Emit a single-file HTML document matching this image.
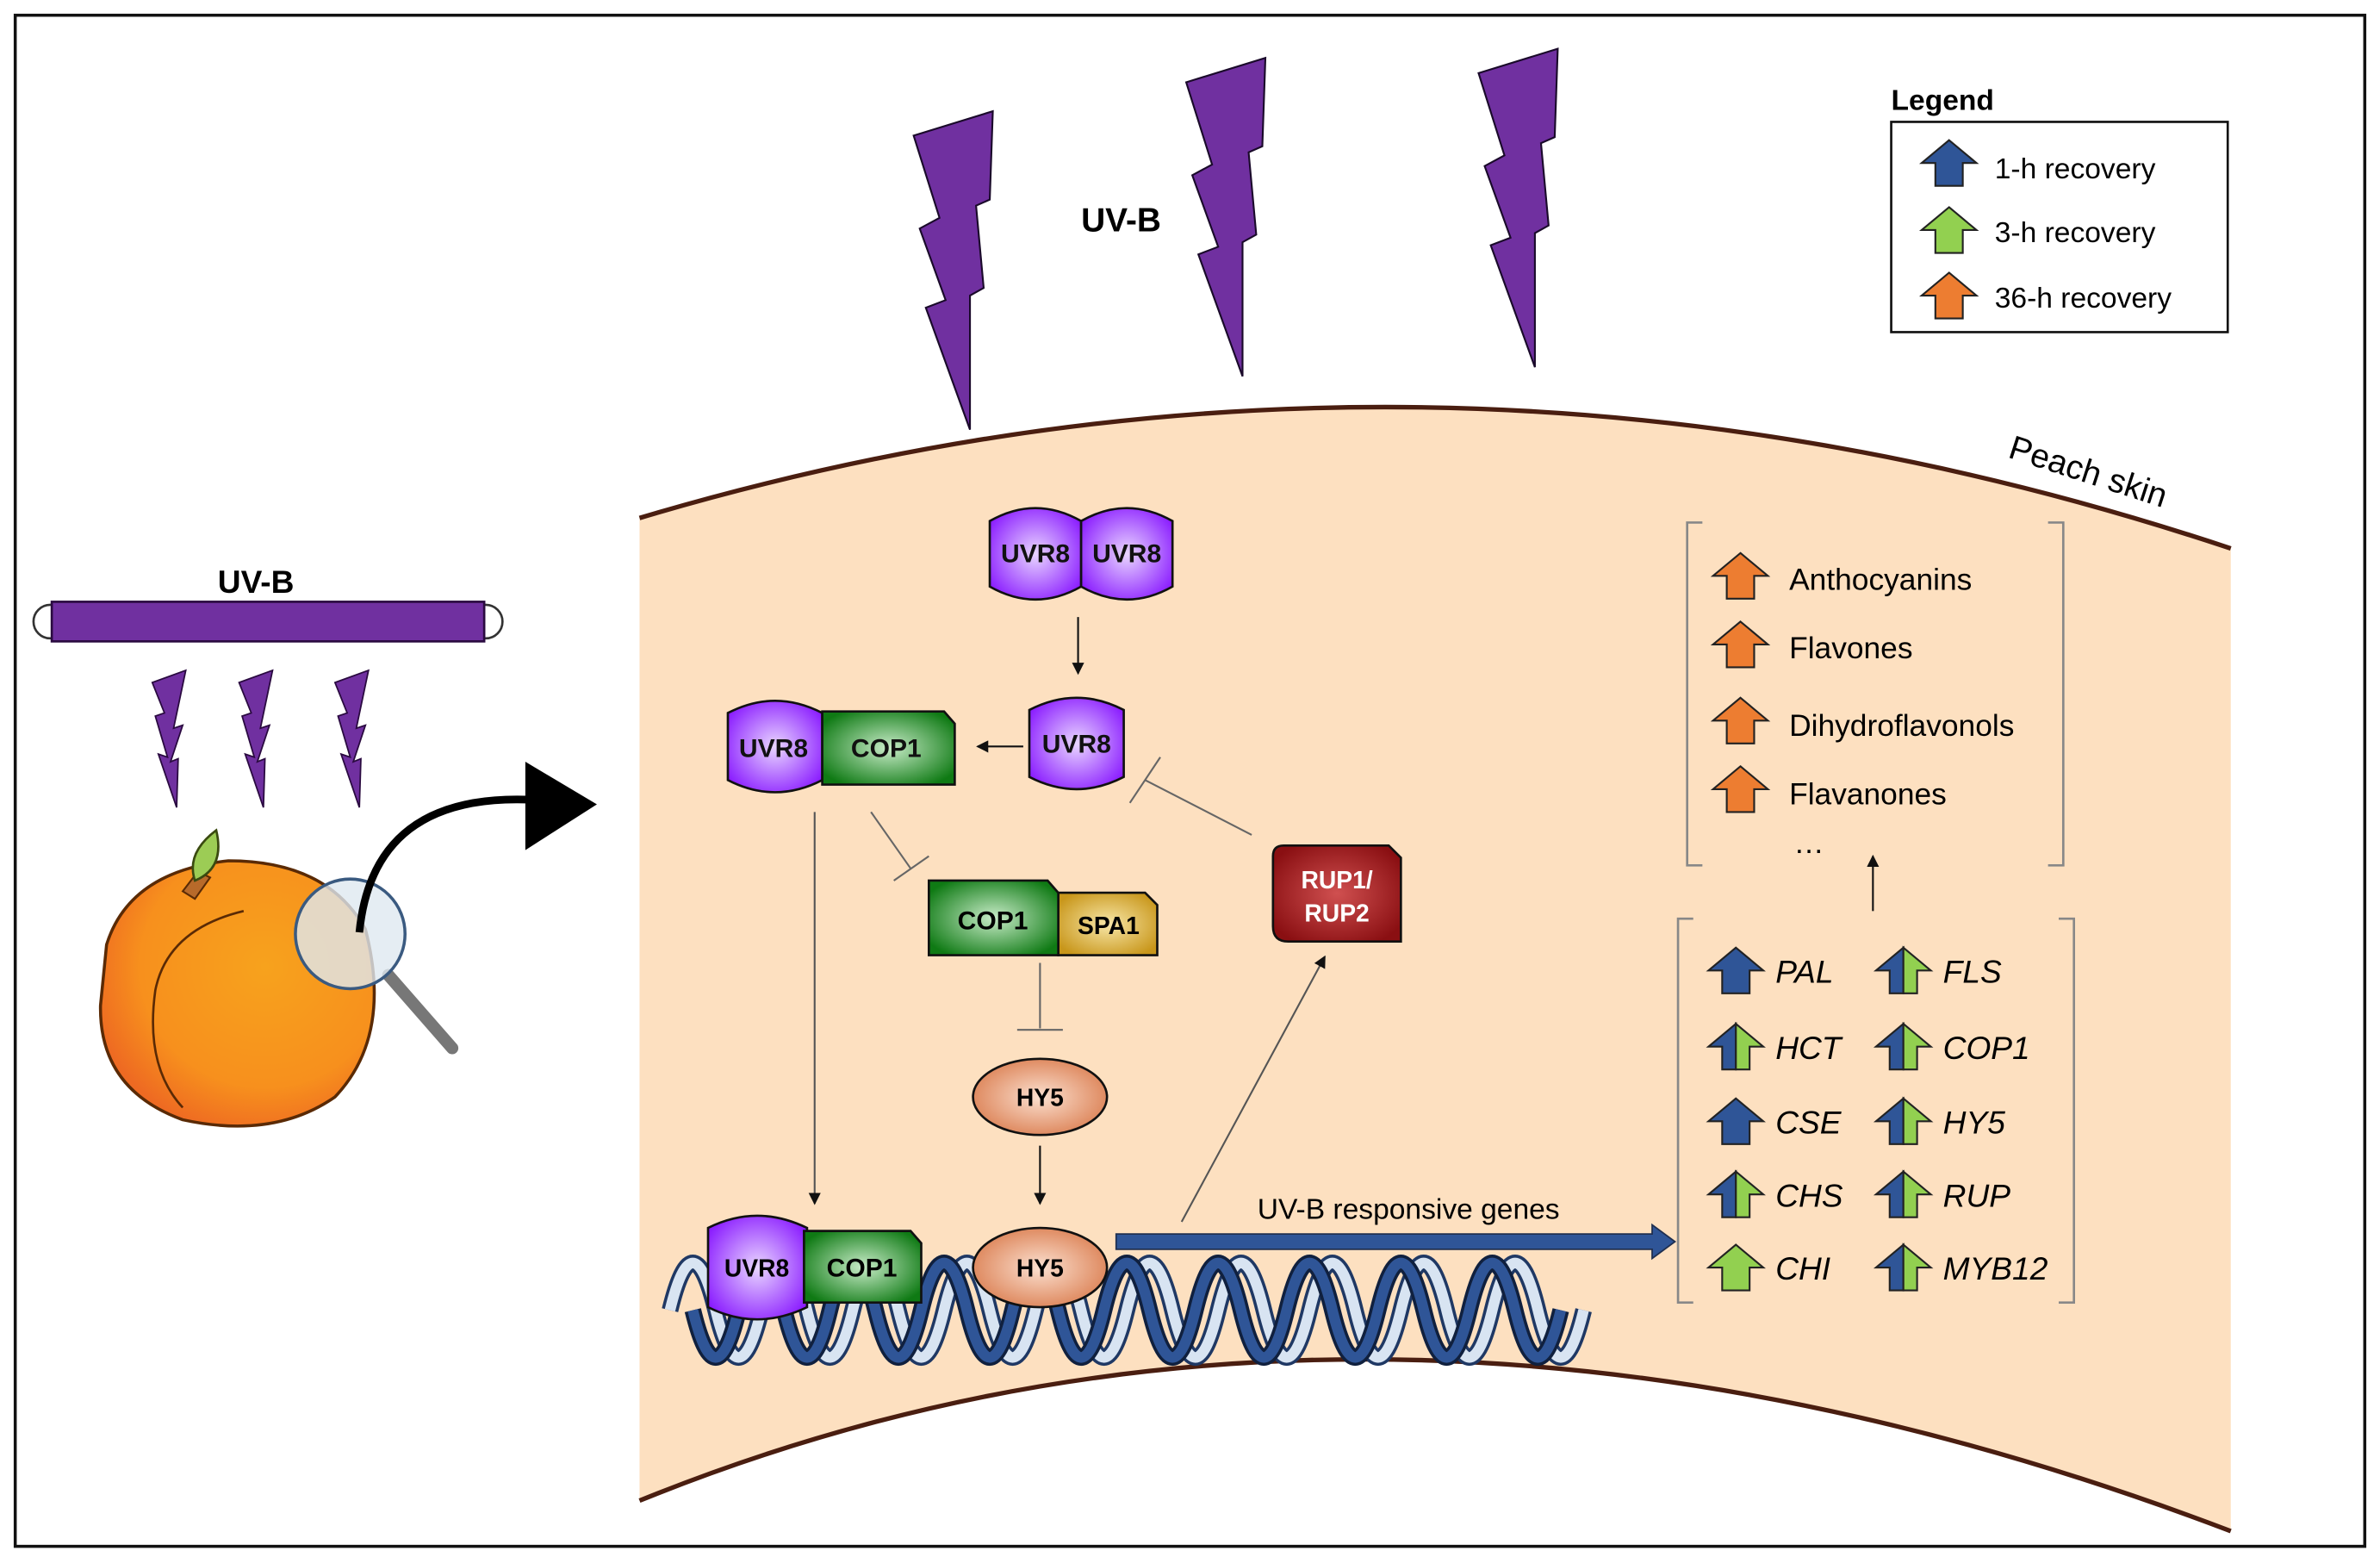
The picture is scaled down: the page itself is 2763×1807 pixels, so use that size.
<!DOCTYPE html>
<html><head><meta charset="utf-8"><style>
html,body{margin:0;padding:0;background:#fff}
svg{display:block}
text{font-family:"Liberation Sans",Arial,sans-serif}
</style></head><body>
<svg width="2763" height="1807" viewBox="0 0 1563 1022" preserveAspectRatio="none" xmlns="http://www.w3.org/2000/svg">
<defs>
<radialGradient id="gp" cx="50%" cy="50%" r="60%"><stop offset="0" stop-color="#e9d6ff"/><stop offset="1" stop-color="#8a1cff"/></radialGradient>
<radialGradient id="gg" cx="50%" cy="50%" r="60%"><stop offset="0" stop-color="#c8ecc8"/><stop offset="1" stop-color="#0f7a14"/></radialGradient>
<radialGradient id="gy" cx="50%" cy="50%" r="60%"><stop offset="0" stop-color="#f8e7a8"/><stop offset="1" stop-color="#c8961a"/></radialGradient>
<radialGradient id="gs" cx="50%" cy="50%" r="60%"><stop offset="0" stop-color="#fbe0d0"/><stop offset="1" stop-color="#d9794a"/></radialGradient>
<radialGradient id="gr" cx="50%" cy="50%" r="60%"><stop offset="0" stop-color="#d05050"/><stop offset="1" stop-color="#8a0f12"/></radialGradient>
<radialGradient id="go" cx="60%" cy="40%" r="65%"><stop offset="0" stop-color="#f7a21d"/><stop offset="0.7" stop-color="#f7901d"/><stop offset="1" stop-color="#ee6a22"/></radialGradient>
<marker id="ah" markerWidth="8" markerHeight="8" refX="7" refY="4" orient="auto" markerUnits="userSpaceOnUse"><path d="M0,0 L8,4 L0,8 z" fill="#111"/></marker>
<symbol id="arr" viewBox="-18 0 36 30" overflow="visible"><path d="M0,0 L18,15 L9,15 L9,30 L-9,30 L-9,15 L-18,15 z" stroke="#222" stroke-width="1.2"/></symbol>
</defs>
<rect x="10" y="10" width="1543" height="1005" fill="#fff" stroke="#111" stroke-width="2"/>

<!-- peach skin -->
<path d="M420,340 Q940,185 1465,360 L1465,1005 Q900,790 420,985 Z" fill="#fde0c0"/>
<path d="M420,340 Q940,185 1465,360" fill="none" stroke="#4a1e10" stroke-width="3"/>
<path d="M420,985 Q900,790 1465,1005" fill="none" stroke="#4a1e10" stroke-width="3"/>
<text x="1318" y="300" font-size="22" transform="rotate(18 1318 300)">Peach skin</text>

<!-- big bolts -->
<g fill="#7030a0" stroke="#1a0a2a" stroke-width="1.2">
<polygon points="600,89 652,73 650,131 641,135 646,189 637,194 637,282 608,202 621,197 604,150 617,143"/>
<polygon points="600,89 652,73 650,131 641,135 646,189 637,194 637,282 608,202 621,197 604,150 617,143" transform="translate(179,-35)"/>
<polygon points="600,89 652,73 650,131 641,135 646,189 637,194 637,282 608,202 621,197 604,150 617,143" transform="translate(371,-41)"/>
</g>
<text x="710" y="152" font-size="22" font-weight="bold">UV-B</text>

<!-- legend -->
<text x="1242" y="72" font-size="19" font-weight="bold">Legend</text>
<rect x="1242" y="80" width="221" height="138" fill="#fff" stroke="#111" stroke-width="1.5"/>
<use href="#arr" x="1262" y="92" width="36" height="30" fill="#2f5597"/>
<use href="#arr" x="1262" y="136" width="36" height="30" fill="#92d050"/>
<use href="#arr" x="1262" y="179" width="36" height="30" fill="#ed7d31"/>
<text x="1310" y="117" font-size="19">1-h recovery</text>
<text x="1310" y="159" font-size="19">3-h recovery</text>
<text x="1310" y="202" font-size="19">36-h recovery</text>

<!-- lamp -->
<text x="143" y="389" font-size="21" font-weight="bold">UV-B</text>
<rect x="22" y="397" width="308" height="22" rx="11" fill="#fff" stroke="#333" stroke-width="1.5"/>
<rect x="34" y="395" width="284" height="26" fill="#7030a0" stroke="#2a0a40" stroke-width="1.5"/>
<g fill="#7030a0" stroke="#2a0a40" stroke-width="1">
<polygon points="100,448 122,440 114,478 120,476 112,500 117,498 116,530 104,495 110,497 102,470 108,468"/>
<polygon points="157,448 179,440 171,478 177,476 169,500 174,498 173,530 161,495 167,497 159,470 165,468"/>
<polygon points="220,448 242,440 234,478 240,476 232,500 237,498 236,530 224,495 230,497 222,470 228,468"/>
</g>

<!-- peach -->
<path d="M70,620 Q85,572 150,565 Q215,565 240,610 Q258,680 220,720 Q180,748 120,735 Q65,715 66,660 Z" fill="url(#go)" stroke="#5a2a05" stroke-width="2"/>
<path d="M160,598 Q110,610 102,650 Q95,700 120,727" fill="none" stroke="#5a2a05" stroke-width="1.5"/>
<path d="M120,585 L130,572 L138,576 L128,590 z" fill="#b86a2a" stroke="#5a2a05" stroke-width="1.2"/>
<path d="M128,578 Q122,560 142,545 Q148,570 128,578 z" fill="#9ccc55" stroke="#3a4a10" stroke-width="1.5"/>
<line x1="255" y1="640" x2="297" y2="688" stroke="#777" stroke-width="8" stroke-linecap="round"/>
<circle cx="230" cy="613" r="36" fill="#dfe8f0" fill-opacity="0.8" stroke="#3a5a80" stroke-width="2"/>
<path d="M236,612 Q245,520 350,525" fill="none" stroke="#000" stroke-width="5"/>
<polygon points="345,500 392,528 345,558" fill="#000"/>

<!-- connectors -->
<g stroke="#666" stroke-width="1.2" fill="none">
<line x1="708" y1="405" x2="708" y2="442" stroke="#111" marker-end="url(#ah)"/>
<line x1="672" y1="490" x2="642" y2="490" stroke="#111" marker-end="url(#ah)"/>
<line x1="572" y1="533" x2="598" y2="570"/><line x1="587" y1="578" x2="610" y2="562"/>
<line x1="683" y1="632" x2="683" y2="675"/><line x1="668" y1="676" x2="698" y2="676"/>
<line x1="822" y1="548" x2="752" y2="512"/><line x1="742" y1="527" x2="762" y2="497"/>
<line x1="535" y1="533" x2="535" y2="790" stroke="#555" marker-end="url(#ah)"/>
<line x1="683" y1="752" x2="683" y2="790" stroke="#111" marker-end="url(#ah)"/>
<line x1="776" y1="802" x2="870" y2="628" stroke="#555" marker-end="url(#ah)"/>
<line x1="1230" y1="598" x2="1230" y2="562" stroke="#111" marker-end="url(#ah)"/>
</g>

<!-- UVR8 dimer -->
<g stroke="#111" stroke-width="1.5" fill="url(#gp)">
<path d="M650,342 Q680,325 710,342 L710,385 Q680,402 650,385 Z"/>
<path d="M710,342 Q740,325 770,342 L770,385 Q740,402 710,385 Z"/>
<path d="M676,466 Q707,450 738,466 L738,510 Q707,526 676,510 Z"/>
<path d="M478,468 Q509,452 540,468 L540,512 Q509,528 478,512 Z"/>
</g>
<polygon points="540,467 620,467 627,475 627,515 540,515" fill="url(#gg)" stroke="#111" stroke-width="1.5"/>
<g font-size="17" font-weight="bold" text-anchor="middle" fill="#111">
<text x="680" y="369">UVR8</text><text x="740" y="369">UVR8</text>
<text x="707" y="494">UVR8</text><text x="508" y="497">UVR8</text><text x="582" y="497">COP1</text>
</g>

<!-- COP1 SPA1 -->
<polygon points="695,586 752,586 760,594 760,627 695,627" fill="url(#gy)" stroke="#111" stroke-width="1.5"/>
<polygon points="610,578 688,578 695,586 695,627 610,627" fill="url(#gg)" stroke="#111" stroke-width="1.5"/>
<text x="652" y="610" font-size="17" font-weight="bold" text-anchor="middle">COP1</text>
<text x="728" y="613" font-size="16" font-weight="bold" text-anchor="middle">SPA1</text>

<!-- HY5 -->
<ellipse cx="683" cy="720" rx="44" ry="25" fill="url(#gs)" stroke="#111" stroke-width="1.5"/>
<text x="683" y="726" font-size="16" font-weight="bold" text-anchor="middle">HY5</text>

<!-- RUP -->
<path d="M836,562 Q836,555 843,555 L912,555 L920,563 L920,618 L846,618 Q836,618 836,608 Z" fill="url(#gr)" stroke="#111" stroke-width="1.5"/>
<text x="878" y="583" font-size="16" font-weight="bold" text-anchor="middle" fill="#fff">RUP1/</text>
<text x="878" y="605" font-size="16" font-weight="bold" text-anchor="middle" fill="#fff">RUP2</text>

<!-- DNA -->
<g fill="none" stroke-linecap="butt">
<path d="M440,860 Q455,798 470,860 T500,860 T530,860 T560,860 T590,860 T620,860 T650,860 T680,860 T710,860 T740,860 T770,860 T800,860 T830,860 T860,860 T890,860 T920,860 T950,860 T980,860 T1010,860 T1040,860" stroke="#1f3864" stroke-width="11"/>
<path d="M440,860 Q455,798 470,860 T500,860 T530,860 T560,860 T590,860 T620,860 T650,860 T680,860 T710,860 T740,860 T770,860 T800,860 T830,860 T860,860 T890,860 T920,860 T950,860 T980,860 T1010,860 T1040,860" stroke="#d8e4f2" stroke-width="7"/>
<path d="M455,860 Q470,922 485,860 T515,860 T545,860 T575,860 T605,860 T635,860 T665,860 T695,860 T725,860 T755,860 T785,860 T815,860 T845,860 T875,860 T905,860 T935,860 T965,860 T995,860 T1025,860" stroke="#10203e" stroke-width="11"/>
<path d="M455,860 Q470,922 485,860 T515,860 T545,860 T575,860 T605,860 T635,860 T665,860 T695,860 T725,860 T755,860 T785,860 T815,860 T845,860 T875,860 T905,860 T935,860 T965,860 T995,860 T1025,860" stroke="#2f5597" stroke-width="7"/>
</g>

<!-- proteins on DNA -->
<path d="M465,806 Q497,790 530,806 L530,858 Q497,874 465,858 Z" fill="url(#gp)" stroke="#111" stroke-width="1.5"/>
<polygon points="528,808 598,808 605,816 605,855 528,855" fill="url(#gg)" stroke="#111" stroke-width="1.5"/>
<ellipse cx="683" cy="832" rx="44" ry="26" fill="url(#gs)" stroke="#111" stroke-width="1.5"/>
<text x="497" y="838" font-size="16" font-weight="bold" text-anchor="middle">UVR8</text>
<text x="566" y="838" font-size="17" font-weight="bold" text-anchor="middle">COP1</text>
<text x="683" y="838" font-size="16" font-weight="bold" text-anchor="middle">HY5</text>

<!-- long blue arrow -->
<polygon points="733,810 1085,810 1085,804 1100,815 1085,826 1085,820 733,820" fill="#2f5597" stroke="#1f2f50" stroke-width="1"/>
<text x="925" y="800" font-size="19" text-anchor="middle">UV-B responsive genes</text>

<!-- brackets -->
<g fill="none" stroke="#888" stroke-width="1.5">
<path d="M1118,343 L1108,343 L1108,568 L1118,568"/><path d="M1345,343 L1355,343 L1355,568 L1345,568"/>
<path d="M1112,603 L1102,603 L1102,855 L1112,855"/><path d="M1352,603 L1362,603 L1362,855 L1352,855"/>
</g>
<g fill="#ed7d31">
<use href="#arr" x="1125" y="363" width="36" height="30"/>
<use href="#arr" x="1125" y="408" width="36" height="30"/>
<use href="#arr" x="1125" y="458" width="36" height="30"/>
<use href="#arr" x="1125" y="503" width="36" height="30"/>
</g>
<g font-size="20">
<text x="1175" y="387">Anthocyanins</text><text x="1175" y="432">Flavones</text>
<text x="1175" y="483">Dihydroflavonols</text><text x="1175" y="528">Flavanones</text>
<text x="1178" y="560">…</text>
</g>

<!-- gene arrows -->
<g stroke="#222" stroke-width="1.2">
<use href="#arr" x="1122" y="622" width="36" height="30" fill="#2f5597"/>
<use href="#arr" x="1122" y="721" width="36" height="30" fill="#2f5597"/>
<use href="#arr" x="1122" y="817" width="36" height="30" fill="#92d050"/>
</g>
<g stroke="#222" stroke-width="1.2">
<g transform="translate(1140,672)"><path d="M0,0 L0,30 L-9,30 L-9,15 L-18,15 z" fill="#2f5597"/><path d="M0,0 L18,15 L9,15 L9,30 L0,30 z" fill="#92d050"/></g>
<g transform="translate(1140,769)"><path d="M0,0 L0,30 L-9,30 L-9,15 L-18,15 z" fill="#2f5597"/><path d="M0,0 L18,15 L9,15 L9,30 L0,30 z" fill="#92d050"/></g>
<g transform="translate(1250,622)"><path d="M0,0 L0,30 L-9,30 L-9,15 L-18,15 z" fill="#2f5597"/><path d="M0,0 L18,15 L9,15 L9,30 L0,30 z" fill="#92d050"/></g>
<g transform="translate(1250,672)"><path d="M0,0 L0,30 L-9,30 L-9,15 L-18,15 z" fill="#2f5597"/><path d="M0,0 L18,15 L9,15 L9,30 L0,30 z" fill="#92d050"/></g>
<g transform="translate(1250,721)"><path d="M0,0 L0,30 L-9,30 L-9,15 L-18,15 z" fill="#2f5597"/><path d="M0,0 L18,15 L9,15 L9,30 L0,30 z" fill="#92d050"/></g>
<g transform="translate(1250,769)"><path d="M0,0 L0,30 L-9,30 L-9,15 L-18,15 z" fill="#2f5597"/><path d="M0,0 L18,15 L9,15 L9,30 L0,30 z" fill="#92d050"/></g>
<g transform="translate(1250,817)"><path d="M0,0 L0,30 L-9,30 L-9,15 L-18,15 z" fill="#2f5597"/><path d="M0,0 L18,15 L9,15 L9,30 L0,30 z" fill="#92d050"/></g>
</g>
<g font-size="21" font-style="italic">
<text x="1166" y="645">PAL</text><text x="1166" y="695">HCT</text><text x="1166" y="744">CSE</text><text x="1166" y="792">CHS</text><text x="1166" y="840">CHI</text>
<text x="1276" y="645">FLS</text><text x="1276" y="695">COP1</text><text x="1276" y="744">HY5</text><text x="1276" y="792">RUP</text><text x="1276" y="840">MYB12</text>
</g>
</svg>
</body></html>
